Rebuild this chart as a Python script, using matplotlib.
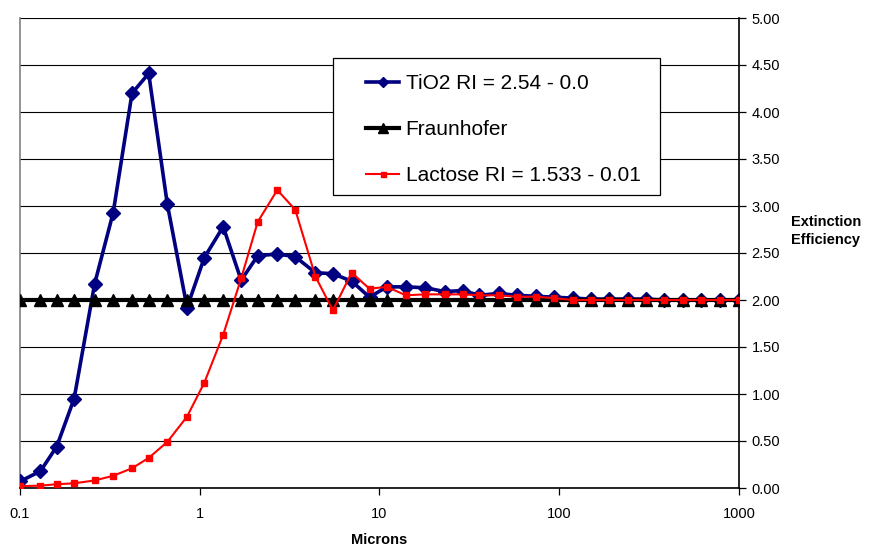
import numpy as np
import matplotlib
matplotlib.use("Agg")
import matplotlib.pyplot as plt
from matplotlib.patches import Rectangle
from matplotlib.ticker import FixedLocator, NullLocator

plt.rcParams['font.family'] = ['Liberation Sans', 'DejaVu Sans']

# particle size (microns)
microns = [0.1, 0.13, 0.16, 0.2, 0.26, 0.33, 0.42, 0.52, 0.66, 0.85,
           1.06, 1.35, 1.7, 2.1, 2.7, 3.4, 4.4, 5.5, 7.0, 8.8,
           11, 14, 18, 23, 29, 36, 46, 58, 74, 93,
           119, 150, 190, 240, 304, 384, 486, 615, 783, 1000]

tio2 = [0.07, 0.18, 0.44, 0.95, 2.17, 2.93, 4.20, 4.41, 3.02, 1.92,
        2.45, 2.78, 2.21, 2.47, 2.49, 2.46, 2.29, 2.28, 2.20, 2.03,
        2.14, 2.14, 2.13, 2.09, 2.10, 2.05, 2.07, 2.05, 2.04, 2.03,
        2.02, 2.01, 2.01, 2.01, 2.01, 2.00, 2.00, 2.00, 2.00, 2.00]

fraunhofer = [2.0] * len(microns)

lactose = [0.02, 0.025, 0.04, 0.05, 0.08, 0.13, 0.21, 0.32, 0.49, 0.76,
           1.12, 1.63, 2.23, 2.83, 3.17, 2.96, 2.25, 1.89, 2.29, 2.12,
           2.14, 2.05, 2.06, 2.06, 2.06, 2.05, 2.05, 2.035, 2.035, 2.02,
           2.00, 2.00, 2.00, 2.00, 2.00, 2.00, 2.00, 2.00, 2.00, 2.00]

x_ticks = [0.1, 1, 10, 100, 1000]
x_tick_labels = ['0.1', '1', '10', '100', '1000']
y_ticks = np.arange(0, 5.01, 0.5)

W, H = 870, 549
fig = plt.figure(figsize=(W/100, H/100), dpi=100)
ax = fig.add_axes([20/W, 1 - 488/H, (739 - 20)/W, (488 - 18)/H])

ax.plot(microns, tio2, color='#000080', lw=2.6, marker='D', ms=7,
        label='TiO2 RI = 2.54 - 0.0', zorder=3)
ax.plot(microns, fraunhofer, color='black', lw=3, marker='^', ms=9,
        label='Fraunhofer', zorder=4)
ax.plot(microns, lactose, color='#ff0000', lw=1.5, marker='s', ms=4.5,
        label='Lactose RI = 1.533 - 0.01', zorder=5)

ax.set_xscale('log')
ax.set_xlim(0.1, 1000)
ax.set_ylim(0, 5)
ax.xaxis.set_major_locator(FixedLocator(x_ticks))
ax.xaxis.set_minor_locator(NullLocator())
ax.set_xticklabels(x_tick_labels)
ax.set_yticks(y_ticks)
ax.set_yticklabels(['%.2f' % v for v in y_ticks])
ax.yaxis.tick_right()
ax.tick_params(axis='both', labelsize=10.5, direction='out', length=5,
               width=0.9, color='black')
ax.tick_params(axis='y', pad=4)
ax.tick_params(axis='x', pad=9)

ax.grid(axis='y', color='black', lw=0.8)
ax.set_axisbelow(True)
ax.spines['top'].set_visible(False)
ax.spines['left'].set_color('#808080')
ax.spines['left'].set_linewidth(1.2)
ax.spines['right'].set_linewidth(1.2)
ax.spines['bottom'].set_linewidth(1.2)

ax.set_xlabel('Microns', fontsize=10.5, fontweight='bold', labelpad=8)
fig.text(791/W, 1 - 231/H, 'Extinction\nEfficiency', fontsize=10.5,
         fontweight='bold', ha='left', va='center', linespacing=1.3)

# legend box drawn separately so the padding matches the original
box = Rectangle((333/W, 1 - 195/H), (660 - 333)/W, (195 - 58)/H,
                transform=fig.transFigure, facecolor='white',
                edgecolor='black', lw=0.9, zorder=9)
fig.add_artist(box)
handles, labels = ax.get_legend_handles_labels()
leg = fig.legend(handles, labels, loc='upper left',
                 bbox_to_anchor=(366/W, 1 - 74/H), fontsize=15, frameon=False,
                 handlelength=1.6, labelspacing=1.3, borderpad=0,
                 handletextpad=0.3, borderaxespad=0)
leg.set_zorder(10)
for h in leg.legend_handles:
    h.set_markersize(h.get_markersize() * 0.8)

fig.savefig('out.png', dpi=100)
